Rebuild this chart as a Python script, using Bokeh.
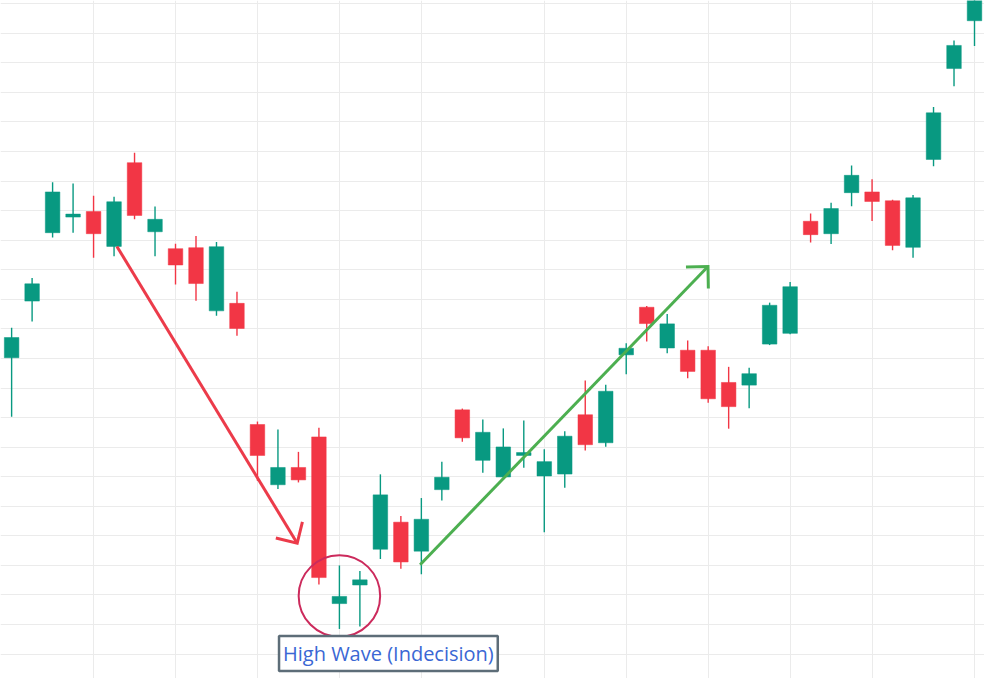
import math
from bokeh.plotting import figure
from bokeh.models import Range1d, FixedTicker, Label, ColumnDataSource
from bokeh.embed import file_html
from bokeh.resources import INLINE

# ---- data (candle index, OHLC) ----
opens = [150.12, 159.70, 171.27, 173.91, 174.85, 168.95, 183.11, 171.43, 168.57, 168.74,
         158.05, 159.32, 138.83, 128.64, 131.56, 136.73, 108.54, 111.68, 117.73, 122.31,
         117.40, 127.81, 141.31, 132.77, 129.96, 133.59, 130.12, 130.45, 140.48, 135.74,
         150.61, 158.66, 151.77, 151.39, 151.39, 145.94, 145.49, 152.43, 154.25, 173.20,
         171.10, 178.04, 178.16, 176.67, 168.79, 183.66, 199.03, 207.12]
highs = [155.19, 163.62, 179.81, 179.59, 177.50, 177.33, 184.77, 175.68, 169.40, 170.72,
         169.68, 161.30, 139.33, 138.00, 134.20, 138.29, 114.99, 114.05, 130.40, 123.35,
         126.39, 132.55, 141.52, 139.66, 138.17, 139.49, 134.65, 137.67, 146.27, 145.56,
         152.55, 158.87, 157.50, 153.04, 152.05, 148.58, 148.41, 159.44, 162.95, 174.52,
         176.34, 182.62, 180.30, 176.83, 177.66, 192.53, 203.77, 213.85]
lows = [140.15, 156.23, 170.44, 171.27, 167.04, 167.30, 173.53, 167.30, 162.51, 159.77,
        157.22, 153.82, 129.30, 127.92, 129.03, 111.78, 104.25, 104.68, 116.08, 114.43,
        113.50, 125.99, 135.91, 130.65, 129.86, 131.51, 120.60, 128.14, 134.42, 135.08,
        147.31, 152.88, 150.89, 146.65, 142.52, 138.12, 141.59, 152.26, 154.11, 169.61,
        169.35, 175.73, 173.25, 168.29, 167.04, 182.50, 196.05, 202.83]
closes = [153.54, 162.62, 178.16, 174.41, 171.10, 176.50, 174.19, 173.53, 165.81, 162.67,
          168.90, 155.07, 133.59, 131.56, 129.46, 112.94, 109.75, 112.56, 126.93, 115.58,
          122.80, 129.91, 136.57, 137.51, 135.03, 134.09, 132.55, 136.85, 135.41, 144.45,
          151.72, 155.90, 155.85, 147.80, 143.18, 141.85, 147.42, 158.99, 162.13, 170.94,
          175.35, 180.97, 176.55, 169.12, 177.16, 191.54, 202.94, 211.86]

# gridline positions (price and candle index)
price_grid = [100, 105, 110, 115, 120, 125, 130, 135, 140, 145, 150, 155, 160, 165,
              170, 175, 180, 185, 190, 195, 200, 205, 210]
time_grid = [4, 8, 12, 16, 20, 26, 30, 34, 38, 42, 47]

# annotations (candle index, price)
red_arrow_start = (5.14, 168.95)
red_arrow_end = (13.94, 118.75)
green_arrow_start = (19.94, 115.12)
green_arrow_end = (33.99, 165.55)
circle_center = (16.0, 109.83)
label_text = "High Wave (Indecision)"

UP = "#089981"
DOWN = "#f23645"

W, H = 984, 678
x0, x1 = -0.5427, 47.488
y0, y1 = 95.87, 210.54

p = figure(width=W, height=H, output_backend="svg", toolbar_location=None,
           x_range=Range1d(x0, x1), y_range=Range1d(y0, y1), min_border=0)
p.outline_line_color = None
p.background_fill_color = "white"
p.border_fill_color = "white"
p.xaxis.visible = False
p.yaxis.visible = False
p.xgrid.ticker = FixedTicker(ticks=time_grid)
p.ygrid.ticker = FixedTicker(ticks=price_grid)
p.xgrid.grid_line_color = "#ebebeb"
p.ygrid.grid_line_color = "#ebebeb"
p.xgrid.grid_line_width = 1
p.ygrid.grid_line_width = 1

idx = list(range(len(opens)))
colors = [UP if c >= o else DOWN for o, c in zip(opens, closes)]
src = ColumnDataSource(dict(
    x=idx, o=opens, h=highs, l=lows, c=closes,
    top=[max(o, c) for o, c in zip(opens, closes)],
    bot=[min(o, c) for o, c in zip(opens, closes)],
    color=colors))

p.segment(x0="x", y0="h", x1="x", y1="l", line_color="color", line_width=1.4, source=src)
p.vbar(x="x", top="top", bottom="bot", width=0.71, fill_color="color",
       line_color="color", line_width=0.5, source=src)

sx = W / (x1 - x0)
sy = H / (y1 - y0)


def arrow(start, end, color, lw=3, head=22):
    p.line([start[0], end[0]], [start[1], end[1]], line_color=color, line_width=lw)
    dx = (end[0] - start[0]) * sx
    dy = (end[1] - start[1]) * sy
    n = math.hypot(dx, dy)
    ux, uy = -dx / n, -dy / n
    pts = []
    for a in (math.pi / 4, -math.pi / 4):
        vx = ux * math.cos(a) - uy * math.sin(a)
        vy = ux * math.sin(a) + uy * math.cos(a)
        pts.append((end[0] + vx * head / sx, end[1] + vy * head / sy))
    p.line([pts[0][0], end[0], pts[1][0]], [pts[0][1], end[1], pts[1][1]],
           line_color=color, line_width=lw, line_join="miter")


arrow(red_arrow_start, red_arrow_end, "#ec3b4a")
arrow(green_arrow_start, green_arrow_end, "#4caf50")

p.scatter([circle_center[0]], [circle_center[1]], size=81.5, marker="circle",
          fill_color=None, line_color="#cc2a5c", line_width=2)

lab = Label(x=387.9, y=25.1, x_units="screen", y_units="screen", text=label_text,
            text_font="Open Sans", text_font_size="20px", text_color="#3a67d4",
            text_align="center", text_baseline="middle",
            border_line_color="#5d6d78", border_line_width=2.5,
            background_fill_color="white", padding=4)
p.add_layout(lab)

open("out.html", "w").write(file_html(p, INLINE))
